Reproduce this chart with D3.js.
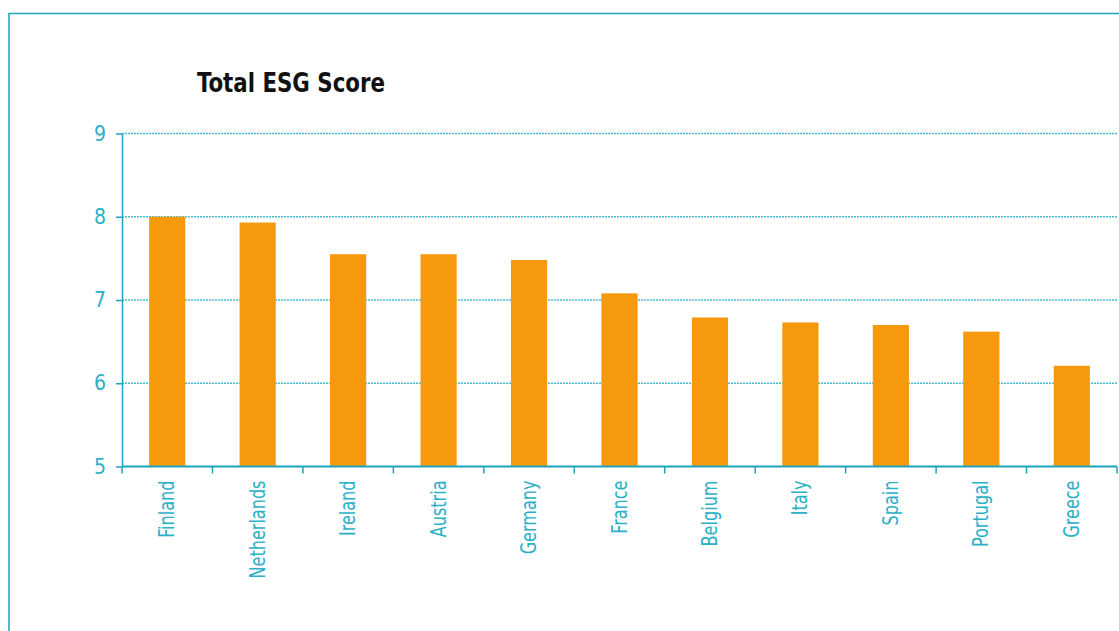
<!DOCTYPE html>
<html><head><meta charset="utf-8">
<script src="https://cdn.jsdelivr.net/npm/d3@7"></script>
<style>body{margin:0;background:#fff}svg{display:block}</style>
</head><body>
<svg id="c" width="1119" height="631"></svg>
<script>
const title = "Total ESG Score";
const categories = ["Finland","Netherlands","Ireland","Austria","Germany","France","Belgium","Italy","Spain","Portugal","Greece"];
const values = [8.0,7.93,7.55,7.55,7.48,7.08,6.79,6.73,6.70,6.62,6.21];
const yTicks = [5,6,7,8,9];

const svg = d3.select("#c");
const teal = "#1ea3bd", grid = "#45bad0", orange = "#f7990c", labelCol = "#2bb0c8";
const font = "'DejaVu Sans Condensed','DejaVu Sans',sans-serif";

svg.append("rect").attr("x",9).attr("y",13.5).attr("width",1300).attr("height",800)
  .attr("fill","none").attr("stroke",teal).attr("stroke-width",1.5);

const x0 = 122, x1 = 1117, yTop = 133.5, yBot = 466.5;
const x = d3.scaleBand().domain(categories).range([x0,x1]).paddingInner(0.6).paddingOuter(0.3);
const xb = d3.scaleBand().domain(categories).range([x0,x1]).padding(0);
const y = d3.scaleLinear().domain([5,9]).range([yBot,yTop]);

svg.append("text").attr("x",197).attr("y",92).text(title)
  .attr("font-family",font).attr("font-stretch","condensed").attr("font-weight","bold")
  .attr("font-size",27).attr("fill","#111")
  .attr("textLength",188).attr("lengthAdjust","spacingAndGlyphs");

// gridlines
svg.append("g").selectAll("line").data(yTicks.filter(d=>d>5)).join("line")
  .attr("x1",x0).attr("x2",x1).attr("y1",d=>y(d)).attr("y2",d=>y(d))
  .attr("stroke",grid).attr("stroke-width",1.5).attr("stroke-dasharray","2,1");

// bars
svg.append("g").selectAll("rect").data(values).join("rect")
  .attr("x",(d,i)=>x(categories[i])).attr("width",x.bandwidth())
  .attr("y",d=>y(d)).attr("height",d=>y(5)-y(d)).attr("fill",orange);

// y axis
const ya = svg.append("g").attr("transform",`translate(${x0},0)`)
  .call(d3.axisLeft(y).tickValues(yTicks).tickFormat(d3.format("d")).tickSize(6).tickSizeOuter(0).tickPadding(10));
ya.select(".domain").attr("stroke",teal).attr("stroke-width",1.5);
ya.selectAll(".tick line").attr("stroke",teal).attr("stroke-width",1.5);
ya.selectAll(".tick text").attr("fill",labelCol).attr("font-family",font)
  .attr("font-stretch","condensed").attr("font-size",21);

// x axis
svg.append("line").attr("x1",x0).attr("x2",x1).attr("y1",yBot).attr("y2",yBot)
  .attr("stroke",teal).attr("stroke-width",2);
const bounds = categories.map(c=>xb(c)).concat([x1]);
svg.append("g").selectAll("line").data(bounds).join("line")
  .attr("x1",d=>d).attr("x2",d=>d).attr("y1",yBot).attr("y2",yBot+7)
  .attr("stroke",teal).attr("stroke-width",1.5);
const labs = svg.append("g").selectAll("text").data(categories).join("text")
  .attr("transform",d=>`translate(${x(d)+x.bandwidth()/2+7},${yBot+14}) rotate(-90)`)
  .attr("text-anchor","end").attr("fill",labelCol).attr("font-family",font)
  .attr("font-stretch","condensed").attr("font-size",21)
  .text(d=>d);
// condense labels so "Netherlands" spans ~98px like the reference
const ratio = 98 / labs.nodes()[1].getComputedTextLength();
labs.each(function(){
  const w = this.getComputedTextLength();
  d3.select(this).attr("textLength", w*ratio).attr("lengthAdjust","spacingAndGlyphs");
});
</script>
</body></html>
